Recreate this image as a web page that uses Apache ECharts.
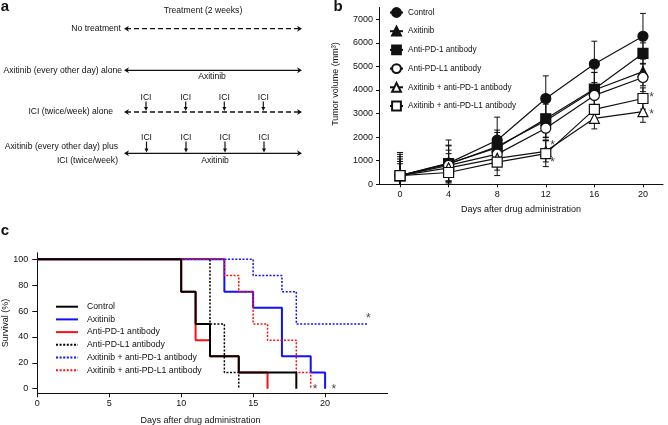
<!DOCTYPE html>
<html><head><meta charset="utf-8">
<script src="https://cdn.jsdelivr.net/npm/echarts@6/dist/echarts.min.js"></script>
<style>html,body{margin:0;padding:0;background:#fff}#c{width:668px;height:425px}</style>
</head><body><div id="c"></div>
<script>
const FONT = "'Liberation Sans', Arial, sans-serif";

// ---------- Panel b: tumor volume ----------
const bDays = [0, 4, 8, 12, 16, 20];
const bNames = ['Control', 'Axitinib', 'Anti-PD-1 antibody', 'Anti-PD-L1 antibody',
  'Axitinib + anti-PD-1 antibody', 'Axitinib + anti-PD-L1 antibody'];
const bControl     = [370, 900, 1870, 3640, 5100, 6280];
const bControlErr  = [980, 980, 980, 960, 970, 970];
const bAxitinib    = [370, 860, 1600, 2700, 4000, 4780];
const bAxitinibErr = [900, 800, 700, 700, 750, 600];
const bAntiPD1     = [370, 880, 1550, 2780, 4040, 5550];
const bAntiPD1Err  = [800, 750, 650, 800, 700, 450];
const bAntiPDL1    = [370, 800, 1280, 2380, 3770, 4530];
const bAntiPDL1Err = [700, 650, 500, 500, 550, 600];
const bAxiPD1      = [370, 700, 1100, 1400, 2800, 3080];
const bAxiPD1Err   = [600, 600, 500, 450, 450, 450];
const bAxiPDL1     = [370, 500, 940, 1300, 3180, 3640];
const bAxiPDL1Err  = [500, 500, 570, 550, 500, 450];
const bXTicks = [0, 4, 8, 12, 16, 20];
const bYTicks = [0, 1000, 2000, 3000, 4000, 5000, 6000, 7000];
const bStars = [[20.7, 3790], [20.7, 3080], [12.55, 1740], [12.55, 1030]];

// ---------- Panel c: survival ----------
const cNames = bNames;
const cControl  = [[0, 100], [10, 75], [11, 50], [12, 25], [14, 12.5], [18, 0]];
const cAxitinib = [[0, 100], [13, 75], [15, 62.5], [17, 25], [19, 12.5], [20, 0]];
const cAntiPD1  = [[0, 100], [10, 75], [11, 37.5], [12, 25], [14, 12.5], [16, 0]];
const cAntiPDL1 = [[0, 100], [12, 50], [13, 12.5], [14, 0]];
const cAxiPD1   = [[0, 100], [15, 87.5], [17, 75], [18, 50], [23, 50]];
const cAxiPDL1  = [[0, 100], [13, 87.5], [14, 75], [15, 50], [16, 37.5], [18, 12.5], [19, 0]];
const cXTicks = [0, 5, 10, 15, 20];
const cYTicks = [0, 20, 40, 60, 80, 100];
const cStars = [[19.3, 1.5], [20.6, 1.5], [23, 56]];

const chart = echarts.init(document.getElementById('c'), null, {renderer: 'canvas'});
const BLK = '#111';

function errSeries(vals, errs) {
  return {
    type: 'custom', xAxisIndex: 0, yAxisIndex: 0, silent: true, z: 1, clip: true,
    data: bDays.map((d, i) => [d, vals[i], errs[i]]),
    encode: {x: 0, y: 1},
    renderItem(params, api) {
      const x = api.value(0), y = api.value(1), e = api.value(2);
      const t = api.coord([x, y + e]), b = api.coord([x, y - e]);
      const w = 3, st = {stroke: BLK, lineWidth: 1};
      return {type: 'group', children: [
        {type: 'line', shape: {x1: t[0], y1: t[1], x2: b[0], y2: b[1]}, style: st},
        {type: 'line', shape: {x1: t[0] - w, y1: t[1], x2: t[0] + w, y2: t[1]}, style: st},
        {type: 'line', shape: {x1: b[0] - w, y1: b[1], x2: b[0] + w, y2: b[1]}, style: st}
      ]};
    }
  };
}
function bLine(name, vals, symbol, open, size) {
  return {
    type: 'line', name, xAxisIndex: 0, yAxisIndex: 0, z: 3,
    data: bDays.map((d, i) => [d, vals[i]]),
    symbol, symbolSize: size, showSymbol: true,
    lineStyle: {color: BLK, width: 1.2},
    itemStyle: {color: open ? '#fff' : BLK, borderColor: BLK, borderWidth: 1.2, opacity: 1},
    emphasis: {disabled: true}
  };
}
function cLine(name, data, color, dotted, w, z) {
  return {
    type: 'line', name: 'c:' + name, xAxisIndex: 1, yAxisIndex: 1, step: 'end', z: z || 2,
    data, symbol: 'none', showSymbol: false,
    lineStyle: {color, width: w, type: dotted ? [2, 1.6] : 'solid'},
    itemStyle: {color}, emphasis: {disabled: true}
  };
}
function stars(data, xi, yi, dx, dy) {
  return {
    type: 'scatter', xAxisIndex: xi, yAxisIndex: yi, data, symbolSize: 1, z: 6,
    itemStyle: {color: 'rgba(0,0,0,0)'}, silent: true,
    label: {show: true, formatter: '*', position: 'inside', offset: [dx, dy],
      color: BLK, fontFamily: FONT, fontSize: 12}
  };
}

// Panel a graphic helpers
const G = [];
function txt(t, x, y, align, size, bold) {
  G.push({type: 'text', x, y, silent: true, style: {text: t, fill: BLK, fontFamily: FONT,
    fontSize: size || 8.6, fontWeight: bold ? 'bold' : 'normal', align: align || 'center', verticalAlign: 'middle'}});
}
function arrowRow(y, dashed) {
  const x1 = 124, x2 = 302;
  G.push({type: 'line', silent: true, shape: {x1: x1 + 2, y1: y, x2: x2 - 2, y2: y},
    style: {stroke: BLK, lineWidth: 1.3, lineDash: dashed ? [5, 3] : null}});
  G.push({type: 'polygon', silent: true, shape: {points: [[x1, y], [x1 + 5, y - 3], [x1 + 3.5, y], [x1 + 5, y + 3]]}, style: {fill: BLK}});
  G.push({type: 'polygon', silent: true, shape: {points: [[x2, y], [x2 - 5, y - 3], [x2 - 3.5, y], [x2 - 5, y + 3]]}, style: {fill: BLK}});
}
function downArrow(x, y1, y2) {
  G.push({type: 'line', silent: true, shape: {x1: x, y1, x2: x, y2: y2 - 3}, style: {stroke: BLK, lineWidth: 1.2}});
  G.push({type: 'polygon', silent: true, shape: {points: [[x - 2, y2 - 4], [x + 2, y2 - 4], [x, y2]]}, style: {fill: BLK}});
}
txt('a', 5, 7, 'center', 15, true);
txt('b', 338, 7, 'center', 15, true);
txt('c', 5, 231, 'center', 15, true);
txt('Treatment (2 weeks)', 203, 11);
txt('No treatment', 121, 28.7, 'right');
arrowRow(28.7, true);
txt('Axitinib (every other day) alone', 122, 70.3, 'right');
arrowRow(70.3, false);
txt('Axitinib', 212, 77);
txt('ICI (twice/week) alone', 113, 112, 'right');
arrowRow(112, true);
[146, 185.7, 224.3, 263.3].forEach(x => { txt('ICI', x, 97.7); downArrow(x, 101.5, 111); });
txt('Axitinib (every other day) plus', 118, 147, 'right');
txt('ICI (twice/week)', 118, 160.3, 'right');
arrowRow(153.3, false);
[146.5, 186, 225, 264].forEach(x => { txt('ICI', x, 137.7); downArrow(x, 141.5, 152.5); });
txt('Axitinib', 215, 160.5);
G.push({type: 'text', x: 336, y: 84, rotation: Math.PI / 2, silent: true,
  style: {text: 'Tumor volume (mm³)', fill: BLK, fontFamily: FONT, fontSize: 9, align: 'center', verticalAlign: 'middle'}});

const axisCommon = {
  axisLine: {show: true, onZero: false, lineStyle: {color: BLK, width: 1}},
  splitLine: {show: false},
  nameTextStyle: {color: BLK, fontFamily: FONT, fontSize: 9}
};
const plain = v => String(v);

chart.setOption({
  animation: false,
  textStyle: {fontFamily: FONT},
  graphic: G,
  grid: [
    {left: 379, top: 7.5, width: 284, height: 176.8, containLabel: false, outerBoundsMode: 'none'},
    {left: 37.3, top: 252.8, width: 350.4, height: 140.5, containLabel: false, outerBoundsMode: 'none'}
  ],
  xAxis: [
    Object.assign({}, axisCommon, {type: 'value', gridIndex: 0, min: -1.73, max: 21.65,
      name: 'Days after drug administration', nameLocation: 'middle', nameGap: 21,
      axisTick: {show: true, customValues: bXTicks, length: 3, lineStyle: {color: BLK}},
      axisLabel: {customValues: bXTicks, formatter: plain, color: BLK, fontSize: 9, margin: 6, fontFamily: FONT}}),
    Object.assign({}, axisCommon, {type: 'value', gridIndex: 1, min: 0, max: 24.35,
      name: 'Days after drug administration', nameLocation: 'middle', nameGap: 23,
      nameTextStyle: {color: BLK, fontFamily: FONT, fontSize: 9, padding: [0, 24, 0, 0]},
      axisTick: {show: true, customValues: cXTicks, length: 4, lineStyle: {color: BLK}},
      axisLabel: {customValues: cXTicks, formatter: plain, color: BLK, fontSize: 9, margin: 6, fontFamily: FONT}})
  ],
  yAxis: [
    Object.assign({}, axisCommon, {type: 'value', gridIndex: 0, min: 0, max: 7500,
      axisTick: {show: true, customValues: bYTicks, length: 3, lineStyle: {color: BLK}},
      axisLabel: {customValues: bYTicks, formatter: plain, color: BLK, fontSize: 9, margin: 6, fontFamily: FONT}}),
    Object.assign({}, axisCommon, {type: 'value', gridIndex: 1, min: -3.55, max: 105,
      name: 'Survival (%)', nameLocation: 'middle', nameGap: 27, nameMoveOverlap: false,
      axisTick: {show: true, customValues: cYTicks, length: 5, lineStyle: {color: BLK}},
      axisLabel: {customValues: cYTicks, formatter: plain, color: BLK, fontSize: 9, margin: 9, fontFamily: FONT}})
  ],
  legend: [
    {data: bNames, orient: 'vertical', left: 389, top: 7, padding: 0, itemWidth: 13, itemHeight: 11,
      itemGap: 7.7, selectedMode: false, textStyle: {color: BLK, fontSize: 8.2, fontFamily: FONT, lineHeight: 11}},
    {data: cNames.map(n => 'c:' + n), orient: 'vertical', left: 55, top: 301.7, padding: 0, itemWidth: 22, itemHeight: 10,
      itemGap: 2.7, selectedMode: false, formatter: n => n.slice(2), itemStyle: {opacity: 0},
      textStyle: {color: BLK, fontSize: 8.7, fontFamily: FONT, lineHeight: 10, padding: [0, 0, 0, 4]}}
  ],
  series: [
    errSeries(bControl, bControlErr),
    errSeries(bAxitinib, bAxitinibErr),
    errSeries(bAntiPD1, bAntiPD1Err),
    errSeries(bAntiPDL1, bAntiPDL1Err),
    errSeries(bAxiPD1, bAxiPD1Err),
    errSeries(bAxiPDL1, bAxiPDL1Err),
    bLine(bNames[0], bControl, 'circle', false, 10),
    bLine(bNames[1], bAxitinib, 'triangle', false, 10),
    bLine(bNames[2], bAntiPD1, 'rect', false, 10),
    bLine(bNames[3], bAntiPDL1, 'circle', true, 10),
    bLine(bNames[4], bAxiPD1, 'triangle', true, 10),
    bLine(bNames[5], bAxiPDL1, 'rect', true, 10),
    stars(bStars, 0, 0, 0, 2.7),
    cLine(cNames[0], cControl, '#000', false, 2, 3),
    cLine(cNames[1], cAxitinib, '#1010ff', false, 2),
    cLine(cNames[2], cAntiPD1, '#ff1010', false, 2),
    cLine(cNames[3], cAntiPDL1, '#000', true, 1.5),
    cLine(cNames[4], cAxiPD1, '#1010ff', true, 1.5),
    cLine(cNames[5], cAxiPDL1, '#ff1010', true, 1.5),
    stars(cStars, 1, 1, 0, 2.7)
  ]
});
</script></body></html>
